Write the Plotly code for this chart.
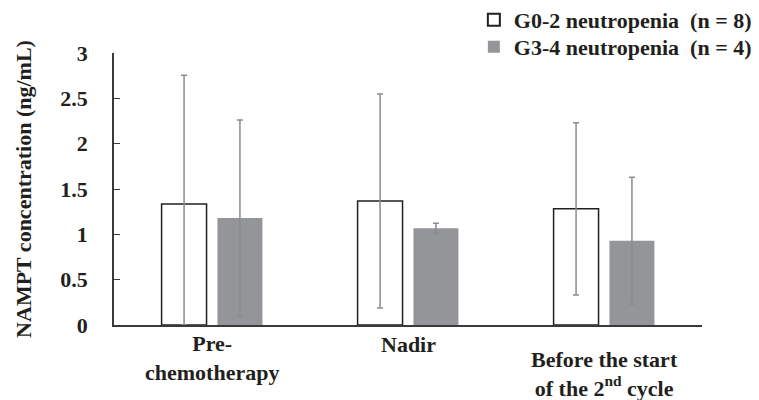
import plotly.graph_objects as go

categories = ["Pre-chemotherapy", "Nadir", "Before the start of the 2nd cycle"]
category_labels = ["Pre-<br>chemotherapy", "Nadir", "Before the start<br>of the 2<sup>nd</sup> cycle"]
series_names = ["G0-2 neutropenia  (n = 8)", "G3-4 neutropenia  (n = 4)"]
g02_mean = [1.334, 1.367, 1.282]
g02_sd = [1.42, 1.18, 0.95]
g34_mean = [1.18, 1.066, 0.93]
g34_sd = [1.08, 0.055, 0.70]
y_ticks = [0, 0.5, 1, 1.5, 2, 2.5, 3]
y_ticktext = ["0", "0.5", "1", "1.5", "2", "2.5", "3"]

FONT = "'Times New Roman', 'Liberation Serif', serif"
TXT = "#231f20"
ERR = "#8c8c8c"

def err(means, sds):
    return dict(type="data", symmetric=False, array=sds,
                arrayminus=[min(m, s) for m, s in zip(means, sds)],
                color=ERR, thickness=1.5, width=3)

fig = go.Figure()
fig.add_trace(go.Bar(
    x=categories, y=g02_mean, name="<b>" + series_names[0] + "</b>",
    marker=dict(color="white", line=dict(color=TXT, width=1.5)),
    error_y=err(g02_mean, g02_sd), legend="legend"))
fig.add_trace(go.Bar(
    x=categories, y=g34_mean, name="<b>" + series_names[1] + "</b>",
    marker=dict(color="#939598", line=dict(color="#939598", width=0)),
    error_y=err(g34_mean, g34_sd), legend="legend2"))

shifts = [-4, -5, -20]
for c, lab, s in zip(categories, category_labels, shifts):
    fig.add_annotation(x=c, xref="x", y=0, yref="paper", yanchor="top",
                       yshift=s, text="<b>" + lab + "</b>", showarrow=False,
                       font=dict(family=FONT, size=22, color=TXT), align="center")

leg = dict(xanchor="left", yanchor="middle",
           font=dict(family=FONT, size=22, color=TXT),
           bgcolor="rgba(0,0,0,0)", itemsizing="constant")

fig.update_layout(
    width=759, height=400,
    margin=dict(l=114, r=57, t=53, b=75, autoexpand=False),
    paper_bgcolor="white", plot_bgcolor="white",
    barmode="group", bargap=0.43, bargroupgap=0.195,
    font=dict(family=FONT, size=22, color=TXT),
    showlegend=True,
    legend=dict(leg, x=0.612, y=(325 - 20) / 272),
    legend2=dict(leg, x=0.612, y=(325 - 47) / 272),
    xaxis=dict(type="category", range=[-0.5, 2.5], showticklabels=False,
               showline=True, linecolor="#3a3a3a", linewidth=1.5,
               ticks="", showgrid=False, zeroline=False, fixedrange=True),
    yaxis=dict(range=[0, 3], tickvals=y_ticks,
               ticktext=["<b>" + t + "</b>" for t in y_ticktext],
               showline=True, linecolor="#3a3a3a", linewidth=1.5,
               ticks="inside", ticklen=6, tickcolor="#3a3a3a", tickwidth=1.2,
               ticklabelstandoff=20,
               tickfont=dict(family=FONT, size=22, color=TXT),
               showgrid=False, zeroline=False,
               title=dict(text="<b>NAMPT concentration (ng/mL)</b>", standoff=23,
                          font=dict(family=FONT, size=22, color=TXT))),
)

fig.write_html("out.html")
